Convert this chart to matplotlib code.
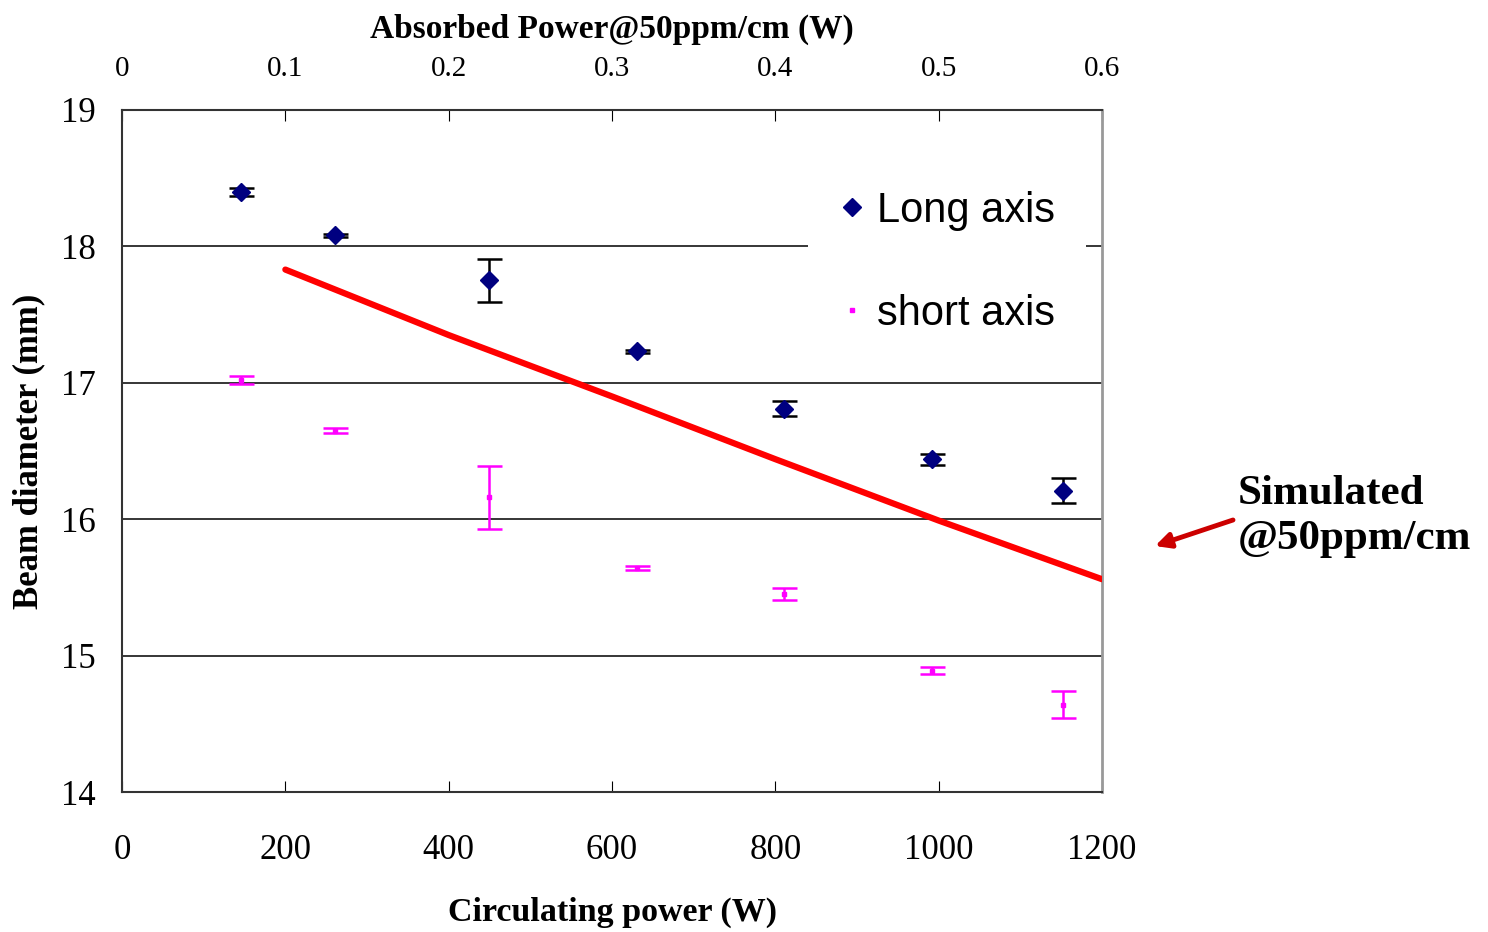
import matplotlib.pyplot as plt

# measured beam diameters (mm) vs circulating power (W)
power = [146, 261, 449, 631, 811, 992, 1152]
long_axis = [18.40, 18.08, 17.75, 17.23, 16.81, 16.44, 16.21]
long_err = [0.03, 0.01, 0.16, 0.01, 0.055, 0.04, 0.09]
short_axis = [17.02, 16.65, 16.16, 15.64, 15.45, 14.89, 14.64]
short_err = [0.03, 0.015, 0.23, 0.015, 0.045, 0.025, 0.10]

# simulated curve @50ppm/cm
sim_power = [200, 400, 600, 800, 1000, 1200]
sim_diam = [17.83, 17.35, 16.90, 16.44, 15.99, 15.56]

top_ticks = [0, 0.1, 0.2, 0.3, 0.4, 0.5, 0.6]
W_PER_ABS = 2000  # 1 W absorbed <-> 2000 W circulating

serif = 'Liberation Serif'
sans = 'Liberation Sans'

fig = plt.figure(figsize=(14.88, 9.32), dpi=100)
ax = fig.add_axes([0.082, 0.1502, 0.6586, 0.7318])

for y in [15, 16, 17, 18]:
    ax.axhline(y, color='black', lw=1.1, zorder=1)

ax.plot(sim_power, sim_diam, color='#ff0000', lw=4.5, solid_capstyle='round', zorder=3)

ax.errorbar(power, long_axis, yerr=long_err, fmt='D', color='#000080',
            ms=9, ecolor='black', elinewidth=1.8, capsize=9, capthick=1.8,
            label='Long axis', zorder=4)
ax.errorbar(power, short_axis, yerr=short_err, fmt='s', color='#ff00ff',
            ms=3, ecolor='#ff00ff', elinewidth=1.8, capsize=9, capthick=1.8,
            label='short axis', zorder=4)

ax.set_xlim(0, 1200)
ax.set_ylim(14, 19)
ax.set_xticks(range(0, 1201, 200))
ax.set_yticks(range(14, 20))
ax.tick_params(axis='x', direction='in', length=8, pad=30, labelsize=25)
ax.tick_params(axis='y', length=0, pad=19, labelsize=25)
for lab in ax.get_xticklabels() + ax.get_yticklabels():
    lab.set_fontfamily(serif)

for s in ['left', 'bottom', 'top']:
    ax.spines[s].set_color('#333333')
    ax.spines[s].set_linewidth(1.5)
ax.spines['right'].set_color('#999999')
ax.spines['right'].set_linewidth(2)

ax.set_xlabel('Circulating power (W)', fontfamily=serif, fontweight='bold',
              fontsize=24.5, labelpad=22)
ax.set_ylabel('Beam diameter (mm)', fontfamily=serif, fontweight='bold',
              fontsize=25)
ax.yaxis.set_label_coords(-0.078, 0.5)

top = ax.secondary_xaxis('top', functions=(lambda x: x / W_PER_ABS,
                                           lambda x: x * W_PER_ABS))
top.set_xticks(top_ticks)
top.set_xticklabels([f'{t:g}' for t in top_ticks])
top.tick_params(direction='in', length=8, pad=20, labelsize=21)
for lab in top.get_xticklabels():
    lab.set_fontfamily(serif)
top.spines['top'].set_visible(False)
top.set_xlabel('Absorbed Power@50ppm/cm (W)', fontfamily=serif,
               fontweight='bold', fontsize=24, labelpad=13)

handles, labels = ax.get_legend_handles_labels()
handles = [h[0] for h in handles]
leg = ax.legend(handles, labels, loc='upper left', bbox_to_anchor=(0.70, 0.927),
                frameon=True, framealpha=1, facecolor='white', edgecolor='none',
                fancybox=False, prop={'family': sans, 'size': 30},
                labelspacing=1.5, handletextpad=0.3, handlelength=0.6,
                borderpad=0.75, borderaxespad=0)
leg.set_zorder(5)

fig.text(0.832, 0.446, 'Simulated\n@50ppm/cm', fontfamily=serif,
         fontweight='bold', fontsize=31, ha='left', va='center',
         linespacing=1.25)
ax.annotate('', xy=(1155 / 1488, 1 - 546 / 932), xycoords='figure fraction',
            xytext=(1233 / 1488, 1 - 520 / 932), textcoords='figure fraction',
            arrowprops=dict(arrowstyle='-|>,head_length=0.9,head_width=0.45',
                            color='#cc0000', lw=3.5, shrinkA=0, shrinkB=0),
            annotation_clip=False)

fig.savefig('out.png', dpi=100)
